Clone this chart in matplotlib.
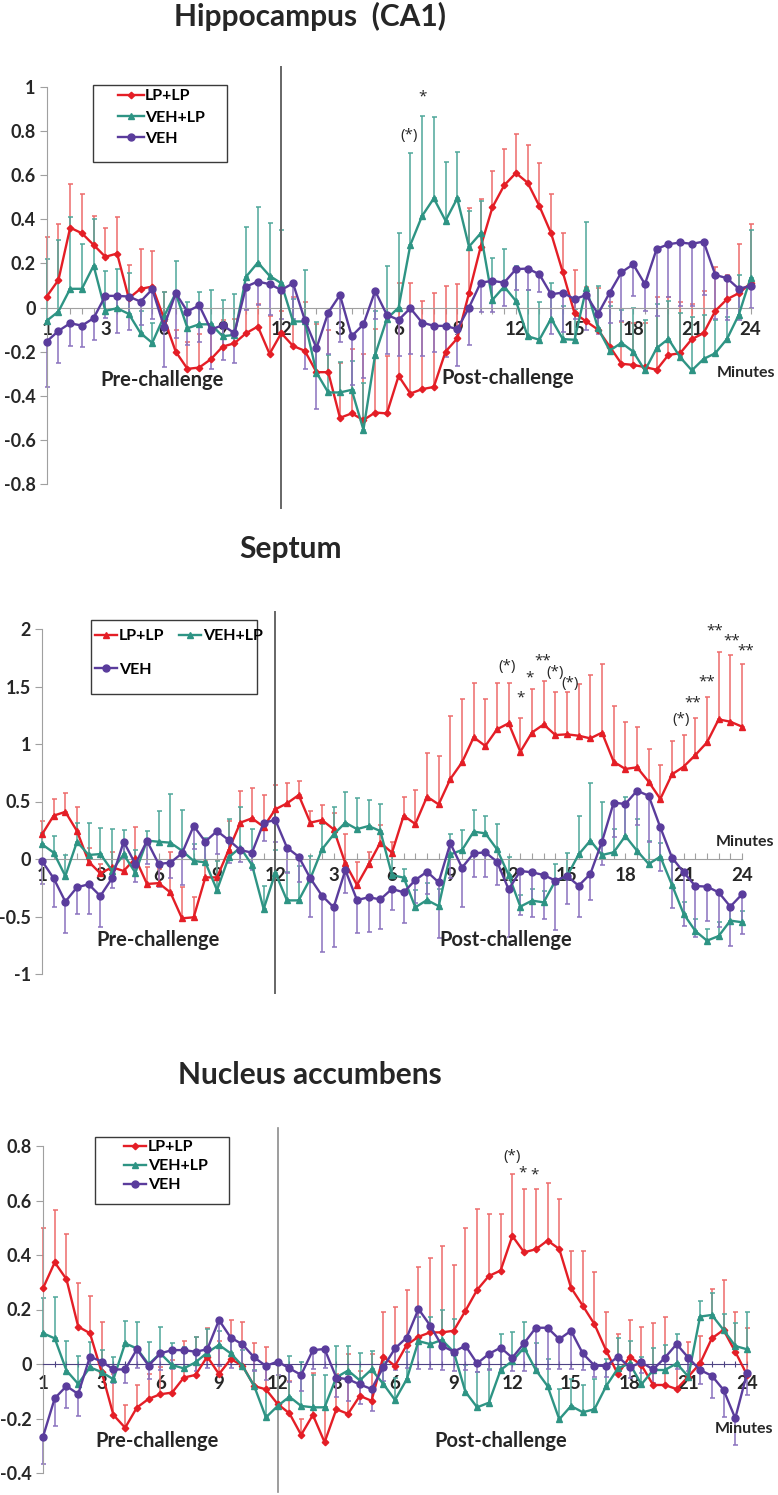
import numpy as np
import matplotlib
matplotlib.use("Agg")
import matplotlib.pyplot as plt
from matplotlib.lines import Line2D
from matplotlib.patches import Rectangle

plt.rcParams['font.family'] = ['Lato', 'DejaVu Sans']
plt.rcParams['axes.unicode_minus'] = False

# ---- data -------------------------------------------------------------
# 61 time bins: 21 pre-challenge (labelled 1..12) + 40 post-challenge (3..24)
bins = np.arange(61)
tick_labels = ['1', '3', '6', '9', '12', '3', '6', '9', '12', '15', '18', '21', '24']

# Hippocampus (CA1)
hip_lp = [0.05, 0.125, 0.362, 0.337, 0.284, 0.23, 0.245, 0.042, 0.085, 0.095,
          -0.05, -0.2, -0.278, -0.272, -0.234, -0.177, -0.162, -0.116, -0.086, -0.21,
          -0.116, -0.174, -0.196, -0.293, -0.293, -0.5, -0.48, -0.51, -0.476, -0.48,
          -0.31, -0.39, -0.37, -0.36, -0.2, -0.14, 0.065, 0.276, 0.455, 0.554,
          0.61, 0.566, 0.46, 0.337, 0.16, -0.026, -0.063, -0.1, -0.177, -0.255,
          -0.26, -0.27, -0.282, -0.215, -0.207, -0.143, -0.116, -0.015, 0.038, 0.065, 0.11]
hip_lp_err = [0.27, 0.255, 0.2, 0.18, 0.13, 0.13, 0.165, 0.15, 0.18, 0.16,
              0.12, 0.1, 0.12, 0.15, 0.13, 0.12, 0.11, 0.11, 0.1, 0.17,
              0.1, 0.22, 0.22, 0.22, 0.19, 0.25, 0.29, 0.3, 0.38, 0.26,
              0.42, 0.5, 0.4, 0.425, 0.3, 0.245, 0.385, 0.214, 0.165, 0.166,
              0.177, 0.171, 0.197, 0.176, 0.18, 0.196, 0.158, 0.188, 0.2, 0.19,
              0.19, 0.2, 0.33, 0.265, 0.23, 0.16, 0.19, 0.2, 0.11, 0.225, 0.27]
hip_vl = [-0.06, -0.018, 0.085, 0.085, 0.19, -0.015, -0.003, -0.029, -0.116, -0.16,
          -0.04, 0.065, -0.094, -0.076, -0.076, -0.13, -0.124, 0.14, 0.204, 0.144,
          0.11, -0.063, -0.063, -0.295, -0.385, -0.385, -0.373, -0.554, -0.214, -0.051,
          0.0, 0.284, 0.415, 0.495, 0.394, 0.495, 0.276, 0.337, 0.035, 0.095,
          0.03, -0.13, -0.146, -0.05, -0.143, -0.146, 0.088, -0.094, -0.195, -0.16,
          -0.2, -0.285, -0.184, -0.142, -0.225, -0.285, -0.233, -0.207, -0.142, -0.033, 0.133]
hip_vl_err = [0.28, 0.325, 0.325, 0.205, 0.21, 0.18, 0.177, 0.185, 0.1, 0.09,
              0.11, 0.145, 0.12, 0.146, 0.156, 0.165, 0.184, 0.226, 0.25, 0.24,
              0.24, 0.1, 0.233, 0.23, 0.17, 0.14, 0.13, 0.21, 0.2, 0.24,
              0.34, 0.416, 0.455, 0.371, 0.266, 0.212, 0.164, 0.148, 0.189, 0.169,
              0.16, 0.21, 0.17, 0.16, 0.15, 0.14, 0.3, 0.194, 0.2, 0.15,
              0.2, 0.23, 0.2, 0.17, 0.2, 0.24, 0.2, 0.15, 0.1, 0.18, 0.22]
hip_veh = [-0.154, -0.106, -0.071, -0.082, -0.048, 0.053, 0.053, 0.05, 0.027, 0.083,
           -0.086, 0.065, -0.018, 0.01, -0.1, -0.08, -0.116, 0.095, 0.118, 0.106,
           0.08, 0.11, -0.056, -0.184, -0.023, 0.057, -0.13, -0.076, 0.075, -0.033,
           -0.056, -0.003, -0.068, -0.083, -0.083, -0.098, 0.0, 0.113, 0.121, 0.113,
           0.174, 0.177, 0.151, 0.06, 0.068, 0.038, 0.057, -0.029, 0.068, 0.16,
           0.196, 0.106, 0.266, 0.287, 0.295, 0.289, 0.299, 0.148, 0.133, 0.085, 0.098]
hip_veh_err = [0.206, 0.144, 0.103, 0.098, 0.098, 0.101, 0.169, 0.15, 0.107, 0.133,
               0.184, 0.205, 0.152, 0.164, 0.18, 0.16, 0.134, 0.105, 0.106, 0.139,
               0.13, 0.16, 0.224, 0.276, 0.187, 0.211, 0.22, 0.244, 0.125, 0.177,
               0.164, 0.207, 0.152, 0.117, 0.142, 0.166, 0.17, 0.133, 0.141, 0.105,
               0.094, 0.097, 0.081, 0.18, 0.178, 0.088, 0.157, 0.09, 0.138, 0.22,
               0.143, 0.121, 0.306, 0.237, 0.29, 0.28, 0.242, 0.198, 0.189, 0.14, 0.1]

# Septum
sep_lp = [0.214, 0.377, 0.41, 0.243, -0.023, -0.125, -0.072, -0.104, 0.006, -0.217,
          -0.21, -0.29, -0.516, -0.507, -0.16, -0.16, 0.078, 0.316, 0.354, 0.28,
          0.432, 0.484, 0.556, 0.316, 0.339, 0.258, -0.038, -0.226, -0.046, 0.142,
          0.055, 0.377, 0.304, 0.542, 0.475, 0.696, 0.84, 1.058, 0.983, 1.128,
          1.18, 0.933, 1.1, 1.17, 1.078, 1.084, 1.072, 1.049, 1.099, 0.846,
          0.783, 0.797, 0.672, 0.522, 0.736, 0.803, 0.904, 1.014, 1.214, 1.194, 1.151]
sep_lp_err = [0.116, 0.143, 0.16, 0.207, 0.12, 0.08, 0.132, 0.1, 0.27, 0.15,
              0.12, 0.35, 0.276, 0.177, 0.15, 0.15, 0.25, 0.278, 0.26, 0.276,
              0.211, 0.18, 0.125, 0.1, 0.131, 0.14, 0.255, 0.2, 0.104, 0.15,
              0.095, 0.163, 0.296, 0.378, 0.425, 0.544, 0.55, 0.472, 0.407, 0.402,
              0.35, 0.297, 0.375, 0.38, 0.372, 0.366, 0.448, 0.551, 0.601, 0.484,
              0.407, 0.353, 0.288, 0.298, 0.294, 0.277, 0.326, 0.396, 0.586, 0.576, 0.549]
sep_vl = [0.128, 0.055, -0.148, 0.15, 0.035, 0.043, -0.1, 0.04, -0.119, 0.16,
          0.15, 0.142, 0.072, -0.017, -0.029, -0.27, 0.014, 0.1, -0.052, -0.435,
          -0.12, -0.36, -0.36, -0.17, 0.084, 0.214, 0.316, 0.26, 0.287, 0.243,
          -0.14, -0.162, -0.42, -0.357, -0.41, 0.04, 0.078, 0.238, 0.223, 0.084,
          -0.14, -0.414, -0.362, -0.377, -0.19, -0.15, 0.04, 0.16, 0.035, 0.058,
          0.2, 0.072, -0.043, 0.02, -0.226, -0.478, -0.626, -0.71, -0.67, -0.536, -0.55]
sep_vl_err = [0.1, 0.145, 0.183, 0.16, 0.275, 0.227, 0.36, 0.21, 0.2, 0.08,
              0.27, 0.42, 0.358, 0.15, 0.21, 0.25, 0.331, 0.35, 0.31, 0.2,
              0.2, 0.25, 0.3, 0.2, 0.22, 0.236, 0.269, 0.27, 0.223, 0.237,
              0.2, 0.072, 0.15, 0.15, 0.15, 0.18, 0.172, 0.192, 0.153, 0.22,
              0.16, 0.1, 0.1, 0.1, 0.15, 0.2, 0.334, 0.498, 0.465, 0.2,
              0.34, 0.28, 0.2, 0.12, 0.2, 0.1, 0.1, 0.1, 0.12, 0.1, 0.1]
sep_veh = [-0.017, -0.168, -0.371, -0.246, -0.22, -0.322, -0.168, 0.151, -0.043, 0.157,
           -0.043, -0.032, 0.049, 0.287, 0.151, 0.243, 0.165, 0.078, 0.055, 0.316,
           0.339, 0.099, 0.02, -0.168, -0.319, -0.42, -0.096, -0.357, -0.333, -0.351,
           -0.26, -0.29, -0.183, -0.11, -0.203, 0.136, -0.075, 0.049, 0.058, -0.023,
           -0.264, -0.104, -0.116, -0.139, -0.188, -0.148, -0.232, -0.13, 0.151, 0.49,
           0.478, 0.594, 0.55, 0.275, 0.012, -0.116, -0.235, -0.24, -0.29, -0.414, -0.307]
sep_veh_err = [0.2, 0.246, 0.27, 0.232, 0.258, 0.272, 0.087, 0.15, 0.16, 0.2,
               0.2, 0.136, 0.275, 0.2, 0.2, 0.2, 0.2, 0.108, 0.15, 0.16,
               0.19, 0.22, 0.22, 0.34, 0.487, 0.342, 0.2, 0.289, 0.299, 0.261,
               0.18, 0.27, 0.2, 0.19, 0.487, 0.3, 0.345, 0.209, 0.218, 0.2,
               0.411, 0.383, 0.384, 0.381, 0.432, 0.246, 0.275, 0.227, 0.2, 0.3,
               0.3, 0.3, 0.4, 0.375, 0.442, 0.464, 0.44, 0.3, 0.3, 0.34, 0.343]

# Nucleus accumbens
nac_lp = [0.278, 0.373, 0.311, 0.137, 0.113, -0.03, -0.187, -0.234, -0.16, -0.128,
          -0.111, -0.105, -0.05, -0.04, 0.027, -0.037, 0.018, -0.006, -0.081, -0.093,
          -0.147, -0.181, -0.26, -0.187, -0.287, -0.166, -0.183, -0.117, -0.135, 0.027,
          -0.007, 0.07, 0.1, 0.116, 0.116, 0.122, 0.195, 0.272, 0.323, 0.343,
          0.47, 0.41, 0.421, 0.453, 0.422, 0.28, 0.214, 0.146, 0.049, -0.038,
          0.027, -0.004, -0.077, -0.077, -0.092, -0.046, 0.002, 0.094, 0.125, 0.045, -0.04]
nac_lp_err = [0.22, 0.192, 0.165, 0.161, 0.137, 0.185, 0.15, 0.084, 0.083, 0.091,
              0.1, 0.12, 0.136, 0.138, 0.104, 0.12, 0.143, 0.161, 0.157, 0.154,
              0.15, 0.12, 0.057, 0.153, 0.13, 0.13, 0.22, 0.092, 0.17, 0.165,
              0.217, 0.2, 0.257, 0.274, 0.318, 0.241, 0.305, 0.296, 0.226, 0.206,
              0.227, 0.231, 0.22, 0.21, 0.184, 0.135, 0.201, 0.19, 0.14, 0.147,
              0.134, 0.141, 0.227, 0.248, 0.16, 0.128, 0.1, 0.18, 0.185, 0.147, 0.171]
nac_vl = [0.113, 0.094, -0.024, -0.073, -0.012, -0.03, -0.056, 0.076, 0.057, -0.001,
          0.039, -0.004, -0.016, 0.006, 0.042, 0.07, 0.039, -0.007, -0.081, -0.196,
          -0.154, -0.12, -0.154, -0.159, -0.159, -0.049, -0.024, -0.06, -0.02, -0.073,
          -0.132, -0.056, 0.084, 0.073, 0.088, 0.045, -0.102, -0.159, -0.142, -0.022,
          0.011, 0.06, -0.022, -0.081, -0.203, -0.154, -0.177, -0.166, -0.081, -0.016,
          0.002, -0.075, -0.022, -0.022, 0.002, -0.046, 0.174, 0.18, 0.125, 0.066, 0.054]
nac_vl_err = [0.13, 0.151, 0.108, 0.102, 0.094, 0.08, 0.08, 0.083, 0.098, 0.083,
              0.096, 0.08, 0.08, 0.094, 0.088, 0.05, 0.06, 0.06, 0.06, 0.1,
              0.16, 0.15, 0.163, 0.12, 0.12, 0.116, 0.091, 0.1, 0.069, 0.08,
              0.08, 0.1, 0.09, 0.101, 0.112, 0.119, 0.1, 0.131, 0.122, 0.132,
              0.108, 0.095, 0.1, 0.1, 0.113, 0.1, 0.1, 0.11, 0.1, 0.11,
              0.084, 0.1, 0.08, 0.09, 0.108, 0.08, 0.056, 0.08, 0.06, 0.084, 0.136]
nac_veh = [-0.267, -0.126, -0.081, -0.11, 0.027, 0.009, -0.02, -0.02, 0.054, -0.006,
           0.039, 0.051, 0.051, 0.045, 0.054, 0.161, 0.097, 0.072, 0.024, -0.007,
           0.009, -0.016, -0.04, 0.051, 0.055, -0.05, -0.056, -0.075, -0.092, -0.012,
           0.057, 0.097, 0.202, 0.141, 0.067, 0.045, 0.067, 0.002, 0.037, 0.06,
           0.023, 0.076, 0.133, 0.133, 0.091, 0.122, 0.039, -0.006, -0.007, 0.027,
           -0.012, 0.006, -0.02, 0.023, 0.073, 0.023, -0.022, -0.043, -0.095, -0.199, -0.034]
nac_veh_err = [0.1, 0.1, 0.08, 0.08, 0.05, 0.04, 0.05, 0.05, 0.07, 0.05,
               0.06, 0.07, 0.07, 0.07, 0.07, 0.17, 0.11, 0.09, 0.05, 0.05,
               0.05, 0.05, 0.06, 0.07, 0.07, 0.07, 0.08, 0.07, 0.08, 0.05,
               0.08, 0.11, 0.22, 0.16, 0.09, 0.07, 0.09, 0.03, 0.06, 0.08,
               0.05, 0.1, 0.15, 0.15, 0.11, 0.14, 0.06, 0.04, 0.04, 0.05,
               0.04, 0.04, 0.05, 0.05, 0.09, 0.05, 0.05, 0.08, 0.1, 0.1, 0.08]

# significance marks: (bin, height, text)
hip_stars = [(30.9, 0.78, '(*)'), (32.0, 0.955, '*')]
sep_stars = [(39.9, 1.67, '(*)'), (41.0, 1.40, '*'), (41.8, 1.57, '*'), (42.9, 1.72, '**'),
             (44.0, 1.62, '(*)'), (45.3, 1.53, '(*)'), (54.8, 1.21, '(*)'), (55.8, 1.36, '**'),
             (57.0, 1.54, '**'), (57.7, 1.98, '**'), (59.1, 1.90, '**'), (60.3, 1.81, '**')]
nac_stars = [(40.0, 0.763, '(*)'), (40.9, 0.70, '*'), (41.9, 0.694, '*')]

# ---- style ------------------------------------------------------------
RED, RED_E = '#e41e26', '#ee6b6b'
TEAL, TEAL_E = '#2e9484', '#4ea79a'
PURP, PURP_E = '#5a3c9c', '#8a72be'
GREY = '#a0a0a0'
TXT = '#262626'

W, H = 778, 1495
fig = plt.figure(figsize=(W / 100, H / 100), dpi=100)


def px_axes(x0, x1, ytop, ybot):
    return fig.add_axes([x0 / W, 1 - ybot / H, (x1 - x0) / W, (ybot - ytop) / H])


def ftext(x, y, s, **kw):
    fig.text(x / W, 1 - y / H, s, ha='center', va='center', color=TXT, **kw)


def draw_panel(ax, series, ylim, yticks, zero_color, tick_dir):
    ax.set_xlim(0, 60)
    ax.set_ylim(*ylim)
    ax.patch.set_visible(False)
    for s in ['top', 'right']:
        ax.spines[s].set_visible(False)
    ax.spines['bottom'].set_position(('data', 0))
    ax.spines['bottom'].set_color(zero_color)
    ax.spines['left'].set_color(GREY)
    ax.set_xticks(bins)
    ax.set_xticklabels([tick_labels[i // 5] if i % 5 == 0 else '' for i in bins])
    ax.tick_params(axis='x', length=4, color=zero_color, direction=tick_dir, pad=6,
                   labelsize=13.5, labelcolor=TXT)
    ax.set_yticks(yticks)
    ax.set_yticklabels([f'{t:g}' for t in yticks])
    ax.tick_params(axis='y', length=5, color=GREY, direction='out', pad=3,
                   labelsize=13, labelcolor=TXT)
    for lab in ax.get_xticklabels() + ax.get_yticklabels():
        lab.set_fontweight('bold')

    zeros = np.zeros(len(bins))
    # error bars first, lines go over them
    for vals, err, ecol, down in series:
        yerr = [err, zeros] if down else [zeros, err]
        cont = ax.errorbar(bins, vals, yerr=yerr, fmt='none', ecolor=ecol,
                           elinewidth=1.1, capsize=1.8, capthick=1.1, zorder=2)
        for art in cont.get_children():
            art.set_clip_on(False)


def draw_lines(ax, lines):
    for z, (vals, col, mk, ms) in enumerate(lines):
        ax.plot(bins, vals, color=col, lw=1.7, marker=mk, ms=ms, mfc=col, mec=col,
                clip_on=False, zorder=4 + z)


def legend_handles(lp_marker, lp_ms):
    return [Line2D([], [], color=RED, lw=1.7, marker=lp_marker, ms=lp_ms),
            Line2D([], [], color=TEAL, lw=1.7, marker='^', ms=5),
            Line2D([], [], color=PURP, lw=1.7, marker='o', ms=5)]


def legend_box(x0, y0, x1, y1):
    fig.patches.append(Rectangle((x0 / W, 1 - y1 / H), (x1 - x0) / W, (y1 - y0) / H,
                                 transform=fig.transFigure, fill=True, fc='white',
                                 ec='#3a3a3a', lw=1.0, zorder=-5))


def stars(ax, marks):
    for bx, by, s in marks:
        ax.text(bx, by, s, ha='center', va='center', fontsize=11, color=TXT,
                family=['Open Sans', 'DejaVu Sans'], zorder=10)


legend_font = dict(weight='bold', size=11.5)

# ---- panel 1 : hippocampus -------------------------------------------
ax1 = px_axes(46.7, 750.5, 87, 484)
draw_panel(ax1, [(hip_lp, hip_lp_err, RED_E, False),
                 (hip_vl, hip_vl_err, TEAL_E, False),
                 (hip_veh, hip_veh_err, PURP_E, True)],
           (-0.8, 1.0), [-0.8, -0.6, -0.4, -0.2, 0, 0.2, 0.4, 0.6, 0.8, 1], GREY, 'out')
draw_lines(ax1, [(hip_lp, RED, 'D', 3.3), (hip_vl, TEAL, '^', 5), (hip_veh, PURP, 'o', 5)])
ax1.axvline(20, ymin=-0.06, ymax=1.05, color='#666666', lw=1.4, clip_on=False, zorder=3)
stars(ax1, hip_stars)
legend_box(93, 85, 227, 162)
h = legend_handles('D', 3.3)
ax1.legend(h, ['LP+LP', 'VEH+LP', 'VEH'], loc='upper left', frameon=False,
           bbox_to_anchor=(118 / W, 1 - 89 / H), bbox_transform=fig.transFigure,
           borderpad=0, borderaxespad=0, handlelength=1.6, handletextpad=0.1,
           labelspacing=0.45, prop=legend_font)
ftext(310, 16, 'Hippocampus  (CA1)', fontsize=21.5, weight='bold')
ftext(162, 380, 'Pre-challenge', fontsize=14.5, weight='bold')
ftext(508, 378, 'Post-challenge', fontsize=14.5, weight='bold')
ftext(746, 373, 'Minutes', fontsize=11.5, weight='bold')

# ---- panel 2 : septum -------------------------------------------------
ax2 = px_axes(42, 742, 629, 974)
draw_panel(ax2, [(sep_lp, sep_lp_err, RED_E, False),
                 (sep_vl, sep_vl_err, TEAL_E, False),
                 (sep_veh, sep_veh_err, PURP_E, True)],
           (-1.0, 2.0), [-1, -0.5, 0, 0.5, 1, 1.5, 2], GREY, 'in')
draw_lines(ax2, [(sep_lp, RED, '^', 5), (sep_vl, TEAL, '^', 5), (sep_veh, PURP, 'o', 5)])
ax2.axvline(20, ymin=-0.055, ymax=1.049, color='#666666', lw=1.4, clip_on=False, zorder=3)
stars(ax2, sep_stars)
legend_box(91, 620, 257, 694)
h = legend_handles('^', 5)
ax2.legend([h[0], h[2], h[1]], ['LP+LP', 'VEH', 'VEH+LP'], loc='upper left', ncol=2,
           frameon=False, bbox_to_anchor=(95 / W, 1 - 629 / H),
           bbox_transform=fig.transFigure, borderpad=0, borderaxespad=0,
           handlelength=1.4, handletextpad=0.1, labelspacing=1.2, columnspacing=0.9,
           prop=legend_font)
ftext(291, 549, 'Septum', fontsize=21.5, weight='bold')
ftext(158, 940, 'Pre-challenge', fontsize=14.5, weight='bold')
ftext(506, 940, 'Post-challenge', fontsize=14.5, weight='bold')
ftext(745, 842, 'Minutes', fontsize=11.5, weight='bold')

# ---- panel 3 : nucleus accumbens ---------------------------------------
ax3 = px_axes(43, 747, 1146, 1473)
draw_panel(ax3, [(nac_lp, nac_lp_err, RED_E, False),
                 (nac_vl, nac_vl_err, TEAL_E, False),
                 (nac_veh, nac_veh_err, PURP_E, True)],
           (-0.4, 0.8), [-0.4, -0.2, 0, 0.2, 0.4, 0.6, 0.8], '#4e4383', 'inout')
draw_lines(ax3, [(nac_lp, RED, 'D', 3.3), (nac_vl, TEAL, '^', 5), (nac_veh, PURP, 'o', 5)])
ax3.axvline(20, ymin=-0.058, ymax=1.055, color='#8c8c8c', lw=1.2, clip_on=False, zorder=3)
stars(ax3, nac_stars)
legend_box(95, 1137, 229, 1204)
h = legend_handles('D', 3.3)
ax3.legend(h, ['LP+LP', 'VEH+LP', 'VEH'], loc='upper left', frameon=False,
           bbox_to_anchor=(124 / W, 1 - 1140 / H), bbox_transform=fig.transFigure,
           borderpad=0, borderaxespad=0, handlelength=1.4, handletextpad=0.1,
           labelspacing=0.3, prop=legend_font)
ftext(310, 1075, 'Nucleus accumbens', fontsize=21.5, weight='bold')
ftext(157, 1441, 'Pre-challenge', fontsize=14.5, weight='bold')
ftext(501, 1441, 'Post-challenge', fontsize=14.5, weight='bold')
ftext(744, 1429, 'Minutes', fontsize=11.5, weight='bold')

fig.savefig('out.png', dpi=100)
